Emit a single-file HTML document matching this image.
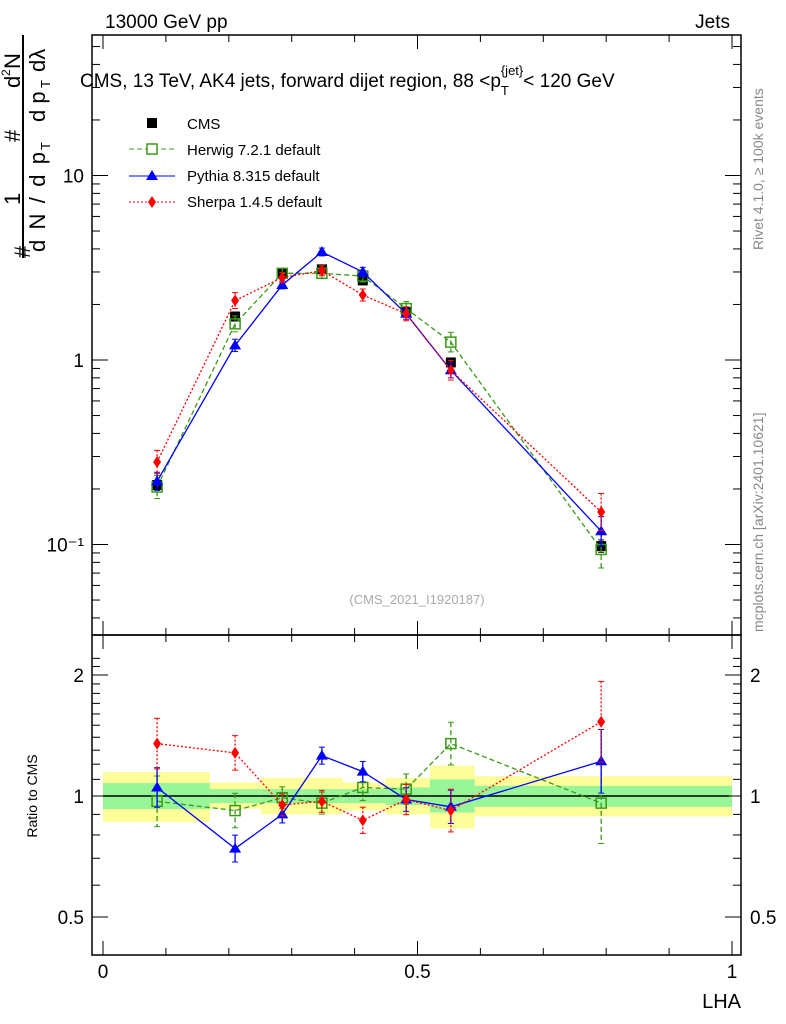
<!DOCTYPE html>
<html><head><meta charset="utf-8"><style>
html,body{margin:0;padding:0;background:#fff}
svg{display:block;font-family:"Liberation Sans",sans-serif}
</style></head><body>
<svg id="chart" width="786" height="1024" viewBox="0 0 786 1024">
<g id="bands"></g>
<g id="main"></g>
<g id="ratio"></g>
<text x="105" y="28" font-size="19">13000 GeV pp</text>
<text x="730" y="28" font-size="19" text-anchor="end">Jets</text>
<text x="80" y="87" font-size="19">CMS, 13 TeV, AK4 jets, forward dijet region, 88 &lt;p<tspan font-size="13" dy="8">T</tspan><tspan font-size="13" dy="-20" dx="-8">{jet}</tspan><tspan dy="12">&lt; 120 GeV</tspan></text>
<text transform="translate(763,250) rotate(-90)" font-size="14" fill="#888">Rivet 4.1.0, ≥ 100k events</text>
<text transform="translate(763,632) rotate(-90)" font-size="14" fill="#888">mcplots.cern.ch [arXiv:2401.10621]</text>
<text x="417" y="604" font-size="13" fill="#aaa" text-anchor="middle">(CMS_2021_I1920187)</text>
<g transform="rotate(-90)" font-size="22">
  <text x="-258" y="30">#</text>
  <text x="-252" y="45" textLength="100">d N / d p</text>
  <text x="-150" y="50" font-size="13">T</text>
  <text x="-205" y="20">1</text>
  <line x1="-258" y1="23" x2="-35" y2="23" stroke="#000" stroke-width="2"/>
  <text x="-142" y="20">#</text>
  <text x="-88" y="20">d</text>
  <text x="-76" y="10" font-size="12">2</text>
  <text x="-69" y="20">N</text>
  <text x="-122" y="45">d p</text>
  <text x="-88" y="50" font-size="13">T</text>
  <text x="-72" y="45">dλ</text>
</g>
<text transform="translate(37,796) rotate(-90)" font-size="14" text-anchor="middle">Ratio to CMS</text>
<text x="741" y="1008" font-size="20" text-anchor="end">LHA</text>
<g font-size="15">
  <g><rect x="147" y="118" width="10" height="10" fill="#000"/><text x="187" y="129">CMS</text></g>
  <g><line x1="129" y1="149" x2="175" y2="149" stroke="#3a9a16" stroke-dasharray="5,3"/><rect x="147" y="144" width="10" height="10" fill="#fff" stroke="#3a9a16" stroke-width="1.5"/><text x="187" y="155">Herwig 7.2.1 default</text></g>
  <g><line x1="129" y1="176" x2="175" y2="176" stroke="#00f"/><polygon points="152,170 158,180 146,180" fill="#00f"/><text x="187" y="181">Pythia 8.315 default</text></g>
  <g><line x1="129" y1="202" x2="175" y2="202" stroke="#f00" stroke-dasharray="2,2"/><polygon points="152,196 156,202 152,208 148,202" fill="#f00"/><text x="187" y="207">Sherpa 1.4.5 default</text></g>
</g>
</svg>
<script>
const binEdges=[0,0.17,0.251,0.317,0.381,0.449,0.52,0.591,1.0];
const binCenters=[0.086,0.210,0.285,0.348,0.413,0.482,0.553,0.792];
const cmsVals=[0.21,1.72,2.95,3.1,2.7,1.82,0.97,0.098];
const herwigVals=[0.205,1.57,2.95,2.95,2.85,1.9,1.25,0.094];
const pythiaVals=[0.22,1.2,2.55,3.85,3.0,1.78,0.88,0.118];
const sherpaVals=[0.28,2.1,2.8,3.05,2.25,1.78,0.88,0.15];
const herwigRatio=[0.97,0.92,0.99,0.96,1.05,1.04,1.35,0.96];
const pythiaRatio=[1.05,0.74,0.9,1.26,1.15,0.98,0.94,1.22];
const sherpaRatio=[1.35,1.28,0.95,0.97,0.87,0.98,0.92,1.53];
const yellowUp=[1.147,1.08,1.11,1.11,1.08,1.11,1.19,1.12];
const yellowDn=[0.862,0.93,0.90,0.90,0.92,0.90,0.83,0.89];
const greenUp=[1.077,1.04,1.04,1.04,1.04,1.05,1.10,1.06];
const greenDn=[0.928,0.96,0.96,0.96,0.96,0.95,0.91,0.94];
const relErr=[0.12,0.08,0.05,0.05,0.06,0.07,0.1,0.2];
const mainTicks=[0.1,1,10];
const mainTickLabels=["10\u207B\u00B9","1","10"];
const ratioTicks=[0.5,1,2];
const xTicks=[0,0.5,1];

const NS="http://www.w3.org/2000/svg";
const X=v=>103+629*v;
const Y=v=>360-184.5*Math.log10(v);
const R=v=>796-402*Math.log10(v);
function mk(tag,attrs,parent){const e=document.createElementNS(NS,tag);for(const k in attrs)e.setAttribute(k,attrs[k]);parent.appendChild(e);return e;}
const main=document.getElementById('main'),ratio=document.getElementById('ratio'),bands=document.getElementById('bands');

for(let i=0;i<binCenters.length;i++){
  const y=mk('rect',{x:X(binEdges[i]),y:R(yellowUp[i]),width:X(binEdges[i+1])-X(binEdges[i]),height:R(yellowDn[i])-R(yellowUp[i]),fill:'#fdfd9a'},bands);
  
  
  const g=mk('rect',{x:X(binEdges[i]),y:R(greenUp[i]),width:X(binEdges[i+1])-X(binEdges[i]),height:R(greenDn[i])-R(greenUp[i]),fill:'#98f598'},bands);
  
  
}

function frame(parent,y0,y1,name){
  const r=mk('rect',{x:92,y:y0,width:649,height:y1-y0,fill:'none',stroke:'#000','stroke-width':1.5},parent);
  
  
  xTicks.forEach(t=>{mk('line',{x1:X(t),x2:X(t),y1:y1,y2:y1-14,stroke:'#000'},parent);mk('line',{x1:X(t),x2:X(t),y1:y0,y2:y0+14,stroke:'#000'},parent);});
  for(let t=0.1;t<1;t+=0.1){if(Math.abs(t-0.5)<1e-6)continue;mk('line',{x1:X(t),x2:X(t),y1:y1,y2:y1-7,stroke:'#000'},parent);mk('line',{x1:X(t),x2:X(t),y1:y0,y2:y0+7,stroke:'#000'},parent);}
}
frame(main,35,635,'main-frame');
frame(ratio,635,955,'ratio-frame');
xTicks.forEach(t=>{const tx=mk('text',{x:X(t),y:978,'font-size':19,'text-anchor':'middle'},ratio);tx.textContent=String(t);
  
  });
for(let d=0.01;d<100;d*=10){for(let m=1;m<10;m++){const v=d*m;const y=Y(v);if(y<35||y>635)continue;const L=m==1?16:8;
  mk('line',{x1:92,x2:92+L,y1:y,y2:y,stroke:'#000'},main);mk('line',{x1:741,x2:741-L,y1:y,y2:y,stroke:'#000'},main);}}
mainTicks.forEach((t,i)=>{const tx=mk('text',{x:84,y:Y(t)+7,'font-size':19,'text-anchor':'end'},main);tx.textContent=mainTickLabels[i];
  
  });
for(let v=0.4;v<=2.3;v+=0.1){const y=R(v);if(y<635||y>955)continue;const big=ratioTicks.some(t=>Math.abs(t-v)<1e-6);const L=big?16:8;
  mk('line',{x1:92,x2:92+L,y1:y,y2:y,stroke:'#000'},ratio);mk('line',{x1:741,x2:741-L,y1:y,y2:y,stroke:'#000'},ratio);}
ratioTicks.forEach(t=>{[[84,'end'],[750,'start']].forEach(([x,a])=>{const tx=mk('text',{x:x,y:R(t)+7,'font-size':19,'text-anchor':a},ratio);tx.textContent=String(t);
  
  });});
mk('line',{x1:103,x2:729,y1:R(1),y2:R(1),stroke:'#000','stroke-width':1.5},ratio);

function series(parent,vals,F,color,dash,marker,name,errs,noLine){
  if(!noLine){
  const pts=binCenters.map((c,i)=>X(c)+','+F(vals[i])).join(' ');
  const pl=mk('polyline',{points:pts,fill:'none',stroke:color,'stroke-width':1.3,'stroke-dasharray':dash},parent);
  
  
  }
  binCenters.forEach((c,i)=>{const x=X(c),y=F(vals[i]);
    const e=errs[i];const y1=F(vals[i]*(1+e)),y2=F(vals[i]/(1+e));
    mk('line',{x1:x,x2:x,y1:y1,y2:y2,stroke:color,'stroke-width':1.3,'stroke-dasharray':dash},parent);
    mk('line',{x1:x-3,x2:x+3,y1:y1,y2:y1,stroke:color},parent);mk('line',{x1:x-3,x2:x+3,y1:y2,y2:y2,stroke:color},parent);
    let m;
    if(marker=='sq')m=mk('rect',{x:x-5,y:y-5,width:10,height:10,fill:'#000'},parent);
    else if(marker=='osq')m=mk('rect',{x:x-5,y:y-5,width:10,height:10,fill:'none',stroke:color,'stroke-width':1.5},parent);
    else if(marker=='tri')m=mk('polygon',{points:`${x},${y-6} ${x+6},${y+4} ${x-6},${y+4}`,fill:color},parent);
    else m=mk('polygon',{points:`${x},${y-6} ${x+4},${y} ${x},${y+6} ${x-4},${y}`,fill:color},parent);
    
    
  });
}
const e1=relErr, e2=relErr.map(v=>v*1.3);
series(main,cmsVals,Y,'#000','none','sq','cms',relErr.map(v=>v*0.4),true);
series(main,herwigVals,Y,'#3a9a16','5,3','osq','herwig',e2);
series(main,pythiaVals,Y,'#00f','none','tri','pythia',e1);
series(main,sherpaVals,Y,'#f00','2,2','dia','sherpa',e2);
series(ratio,herwigRatio,R,'#3a9a16','5,3','osq','herwig-ratio',e2);
series(ratio,pythiaRatio,R,'#00f','none','tri','pythia-ratio',e1);
series(ratio,sherpaRatio,R,'#f00','2,2','dia','sherpa-ratio',e2);
</script>
</body></html>
